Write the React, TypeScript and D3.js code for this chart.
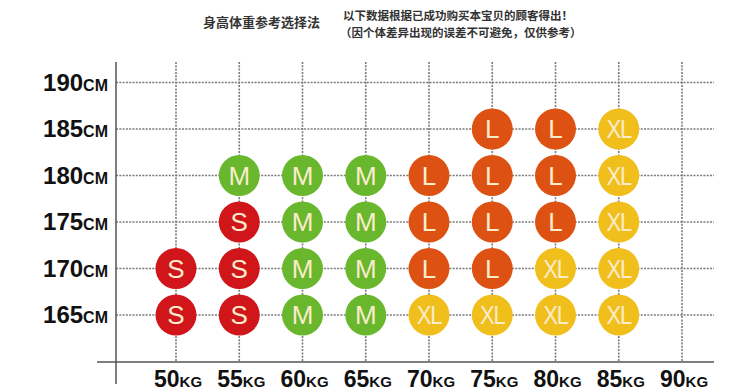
import React from 'react';
import * as d3 from 'd3';

const W = 750;
const H = 392;

// chart data
const weights = [50, 55, 60, 65, 70, 75, 80, 85, 90];
const heights = [165, 170, 175, 180, 185, 190];
// size per height row, one entry per weight (50..85); '' = no size
const row165 = ['S', 'S', 'M', 'M', 'XL', 'XL', 'XL', 'XL'];
const row170 = ['S', 'S', 'M', 'M', 'L', 'L', 'XL', 'XL'];
const row175 = ['', 'S', 'M', 'M', 'L', 'L', 'L', 'XL'];
const row180 = ['', 'M', 'M', 'M', 'L', 'L', 'L', 'XL'];
const row185 = ['', '', '', '', '', 'L', 'L', 'XL'];
const sizeRows: [number, string[]][] = [
  [165, row165], [170, row170], [175, row175], [180, row180], [185, row185],
];
const sizeColors: Record<string, string> = {
  S: '#d0161a',
  M: '#68b72c',
  L: '#dd5212',
  XL: '#f0bf1c',
};
const title = '身高体重参考选择法';
const note1 = '以下数据根据已成功购买本宝贝的顾客得出！';
const note2 = '（因个体差异出现的误差不可避免，仅供参考）';

const x = d3.scaleLinear().domain([50, 90]).range([176, 682]);
const y = d3.scaleLinear().domain([165, 190]).range([315, 82.5]);

const axisX = 116;
const axisY = 362;
const gridColor = '#7a7a7a';
const latin = '"Liberation Sans", Arial, sans-serif';
const cjk = '"Noto Sans CJK SC", sans-serif';

export default function App() {
  const points: { w: number; h: number; s: string }[] = [];
  sizeRows.forEach(([h, row]) => {
    row.forEach((s, i) => {
      if (s) points.push({ w: weights[i], h, s });
    });
  });

  return (
    <svg width={W} height={H} style={{ position: 'absolute', left: 0, top: 0, background: '#fff' }}>
      {/* titles */}
      <text x={203} y={27} fontFamily={cjk} fontWeight={700} fontSize={13} fill="#333">{title}</text>
      <text x={343} y={20} fontFamily={cjk} fontWeight={700} fontSize={11.5} fill="#333">{note1}</text>
      <text x={340} y={37} fontFamily={cjk} fontWeight={700} fontSize={11.5} fill="#333">{note2}</text>

      {/* grid */}
      {heights.map(h => (
        <line key={'h' + h} x1={axisX} x2={714} y1={y(h)} y2={y(h)}
          stroke={gridColor} strokeWidth={1.6} strokeDasharray="2,1.3" />
      ))}
      {weights.map(w => (
        <line key={'v' + w} x1={x(w)} x2={x(w)} y1={62} y2={axisY}
          stroke={gridColor} strokeWidth={1.6} strokeDasharray="2,1.3" />
      ))}

      {/* axes */}
      <line x1={axisX} x2={axisX} y1={62} y2={384} stroke="#555" strokeWidth={1.5} />
      <line x1={97} x2={714} y1={axisY} y2={axisY} stroke="#555" strokeWidth={1.5} />

      {/* y labels */}
      {heights.map(h => (
        <text key={'yl' + h} x={108} y={y(h) + 8} textAnchor="end"
          fontFamily={latin} fontWeight={700} fill="#111">
          <tspan fontSize={24}>{h}</tspan>
          <tspan fontSize={16}>CM</tspan>
        </text>
      ))}

      {/* x labels */}
      {weights.map(w => (
        <text key={'xl' + w} x={x(w) + 2} y={387} textAnchor="middle"
          fontFamily={latin} fontWeight={700} fill="#111">
          <tspan fontSize={23}>{w}</tspan>
          <tspan fontSize={15}>KG</tspan>
        </text>
      ))}

      {/* size dots */}
      {points.map(p => (
        <g key={p.w + '-' + p.h} transform={`translate(${x(p.w)},${y(p.h)})`}>
          <circle r={20.5} fill={sizeColors[p.s]} />
          <text y={9} textAnchor="middle" fontFamily={latin} fontSize={26}
            transform={p.s === 'XL' ? 'scale(0.85,1)' : undefined}
            letterSpacing={p.s === 'XL' ? -1.5 : 0} fill="#fbeccb">{p.s}</text>
        </g>
      ))}
    </svg>
  );
}
